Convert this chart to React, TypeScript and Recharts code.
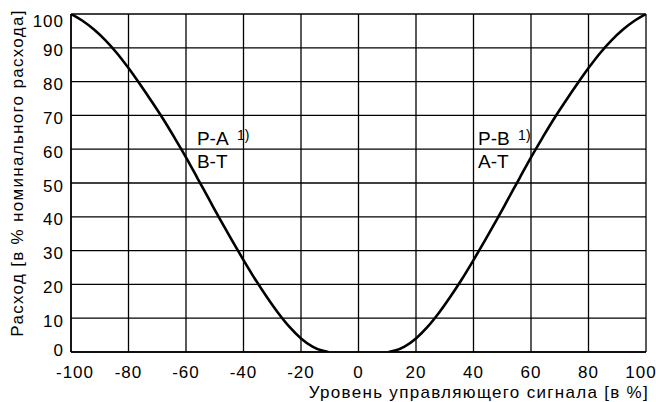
import React from "react";
import {
  LineChart,
  Line,
  XAxis,
  YAxis,
  CartesianGrid,
  ReferenceDot,
  Label,
} from "recharts";

// Tick labels
const xTicks = [-100, -80, -60, -40, -20, 0, 20, 40, 60, 80, 100];
const yTicks = [0, 10, 20, 30, 40, 50, 60, 70, 80, 90, 100];

// Curve P-A / B-T (left)
const leftSignal = [-100, -96, -92, -88, -84, -80, -76, -72, -68, -64, -60, -56, -52, -48, -44, -40, -36, -32, -28, -24, -20, -16, -13, -10.5];
const leftFlow = [100, 98.0, 95.4, 92.2, 88.4, 84.0, 79.2, 74.2, 69.0, 63.4, 57.6, 51.4, 45.2, 39.0, 33.0, 27.2, 21.6, 16.4, 11.6, 7.4, 4.0, 1.6, 0.5, 0];

// Curve P-B / A-T (right)
const rightSignal = [10.5, 13, 16, 20, 24, 28, 32, 36, 40, 44, 48, 52, 56, 60, 64, 68, 72, 76, 80, 84, 88, 92, 96, 100];
const rightFlow = [0, 0.5, 1.6, 4.0, 7.4, 11.6, 16.4, 21.6, 27.2, 33.0, 39.0, 45.2, 51.4, 57.6, 63.4, 69.0, 74.2, 79.2, 84.0, 88.4, 92.2, 95.4, 98.0, 100];

const xTitle = "Уровень управляющего сигнала [в %]";
const yTitle = "Расход [в % номинального расхода]";

const leftData = leftSignal.map((x, i) => ({ x, y: leftFlow[i] }));
const rightData = rightSignal.map((x, i) => ({ x, y: rightFlow[i] }));

const FONT = "'Liberation Sans', Arial, Helvetica, sans-serif";

const XTick = (props: any) => {
  const { x, y, payload } = props;
  const v = payload.value;
  const shift = v === -100 ? 4 : v === 100 ? -5 : 0;
  return (
    <text
      x={x + shift}
      y={y + 20}
      textAnchor="middle"
      dominantBaseline="central"
      fontFamily={FONT}
      fontSize={17}
      letterSpacing={1}
      fill="#000"
    >
      {v}
    </text>
  );
};

const YTick = (props: any) => {
  const { x, y, payload } = props;
  const v = payload.value;
  const shift = v === 100 ? 7 : v === 0 ? -2 : 3;
  return (
    <text
      x={x - 7}
      y={y + shift}
      textAnchor="end"
      dominantBaseline="central"
      fontFamily={FONT}
      fontSize={17}
      letterSpacing={1}
      fill="#000"
    >
      {v}
    </text>
  );
};

const Anno = (top: string, bottom: string) => (props: any) => {
  const vb = props.viewBox || {};
  const x = vb.x ?? 0;
  const y = vb.y ?? 0;
  return (
    <g fontFamily={FONT} fill="#000">
      <text x={x} y={y} fontSize={19}>
        {top}
      </text>
      <text x={x + 40} y={y - 5} fontSize={14}>
        1)
      </text>
      <text x={x} y={y + 23} fontSize={19}>
        {bottom}
      </text>
    </g>
  );
};

const XTitle = (props: any) => {
  const vb = props.viewBox || {};
  return (
    <text
      x={vb.x + vb.width + 3}
      y={vb.y + 40}
      textAnchor="end"
      dominantBaseline="central"
      fontFamily={FONT}
      fontSize={17}
      letterSpacing={1.3}
      fill="#000"
    >
      {xTitle}
    </text>
  );
};

const YTitle = (props: any) => {
  const vb = props.viewBox || {};
  const cx = vb.x + 17;
  const cy = vb.y + vb.height / 2 - 10;
  return (
    <text
      x={cx}
      y={cy}
      textAnchor="middle"
      dominantBaseline="central"
      transform={`rotate(-90 ${cx} ${cy})`}
      fontFamily={FONT}
      fontSize={17}
      letterSpacing={1.3}
      fill="#000"
    >
      {yTitle}
    </text>
  );
};

export default function App() {
  return (
    <div style={{ position: "absolute", left: 0, top: 0, width: 656, height: 402, background: "#fff" }}>
      <LineChart width={656} height={402} margin={{ top: 14, right: 10, bottom: 0, left: 0 }}>
        <CartesianGrid stroke="#000" strokeWidth={1.3} />
        <XAxis
          type="number"
          dataKey="x"
          domain={[-100, 100]}
          ticks={xTicks}
          interval={0}
          height={50}
          tickLine={false}
          tickSize={0}
          tickMargin={0}
          axisLine={{ stroke: "#000", strokeWidth: 1.5 }}
          tick={<XTick />}
          allowDataOverflow
        >
          <Label content={<XTitle />} />
        </XAxis>
        <YAxis
          type="number"
          domain={[0, 100]}
          ticks={yTicks}
          interval={0}
          width={71}
          tickLine={false}
          tickSize={0}
          tickMargin={0}
          axisLine={{ stroke: "#000", strokeWidth: 1.5 }}
          tick={<YTick />}
          allowDataOverflow
        >
          <Label content={<YTitle />} />
        </YAxis>
        <Line
          data={leftData}
          dataKey="y"
          type="monotoneX"
          dot={false}
          stroke="#000"
          strokeWidth={2.6}
          isAnimationActive={false}
        />
        <Line
          data={rightData}
          dataKey="y"
          type="monotoneX"
          dot={false}
          stroke="#000"
          strokeWidth={2.6}
          isAnimationActive={false}
        />
        <ReferenceDot x={-56.2} y={61.2} r={0} fill="none" stroke="none" label={Anno("P-A", "B-T")} />
        <ReferenceDot x={41.6} y={61.2} r={0} fill="none" stroke="none" label={Anno("P-B", "A-T")} />
      </LineChart>
    </div>
  );
}
